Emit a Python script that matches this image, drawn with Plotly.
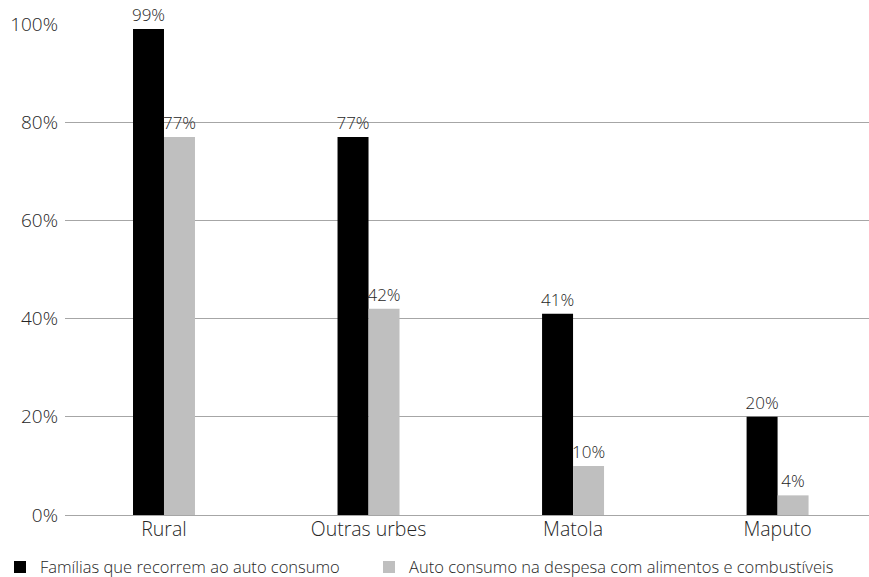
import plotly.graph_objects as go

categories = ["Rural", "Outras urbes", "Matola", "Maputo"]
familias = [99, 77, 41, 20]
despesa = [77, 42, 10, 4]
series_names = ["Famílias que recorrem ao auto consumo",
                "Auto consumo na despesa com alimentos e combustíveis"]
y_ticks = [0, 20, 40, 60, 80, 100]

FONT = "Open Sans"
TXT = "#262626"
COLORS = ["#000000", "#bfbfbf"]
LEGENDS = ["legend", "legend2"]

fig = go.Figure()
for name, vals, color, lg in zip(series_names, [familias, despesa], COLORS, LEGENDS):
    fig.add_trace(go.Bar(
        x=categories, y=vals, name=name, legend=lg,
        marker=dict(color=color, line=dict(width=0)),
        text=[f"{v}%" for v in vals], textposition="outside",
        textfont=dict(family=FONT, size=17, color=TXT, weight=300),
        constraintext="none",
        cliponaxis=False,
    ))

# one legend per series so each entry can be placed independently
legend_style = dict(orientation="h", xref="container", yref="container",
                    xanchor="left", y=0.017, yanchor="middle",
                    font=dict(family=FONT, size=16.5, color=TXT, weight=300),
                    itemwidth=30, bgcolor="rgba(0,0,0,0)")

fig.update_layout(
    width=869, height=577,
    margin=dict(l=65, r=0, t=24, b=62),
    plot_bgcolor="white", paper_bgcolor="white",
    barmode="group", bargap=0.697, bargroupgap=0,
    font=dict(family=FONT, color=TXT, weight=300),
    showlegend=True,
    legend=dict(x=0, **legend_style),
    legend2=dict(x=369 / 869, **legend_style),
    xaxis=dict(range=[-0.484, 3.447], showgrid=False, showline=False, ticks="",
               tickfont=dict(family=FONT, size=19.5, color=TXT, weight=300)),
    yaxis=dict(range=[0, 100], tickvals=y_ticks, ticktext=[f"{v}%" for v in y_ticks],
               showgrid=True, gridcolor="#a6a6a6", gridwidth=1,
               zeroline=True, zerolinecolor="#a6a6a6", zerolinewidth=1,
               showline=False, ticks="", ticklabelstandoff=6,
               tickfont=dict(family=FONT, size=19, color=TXT, weight=300)),
)

fig.write_html("out.html")
